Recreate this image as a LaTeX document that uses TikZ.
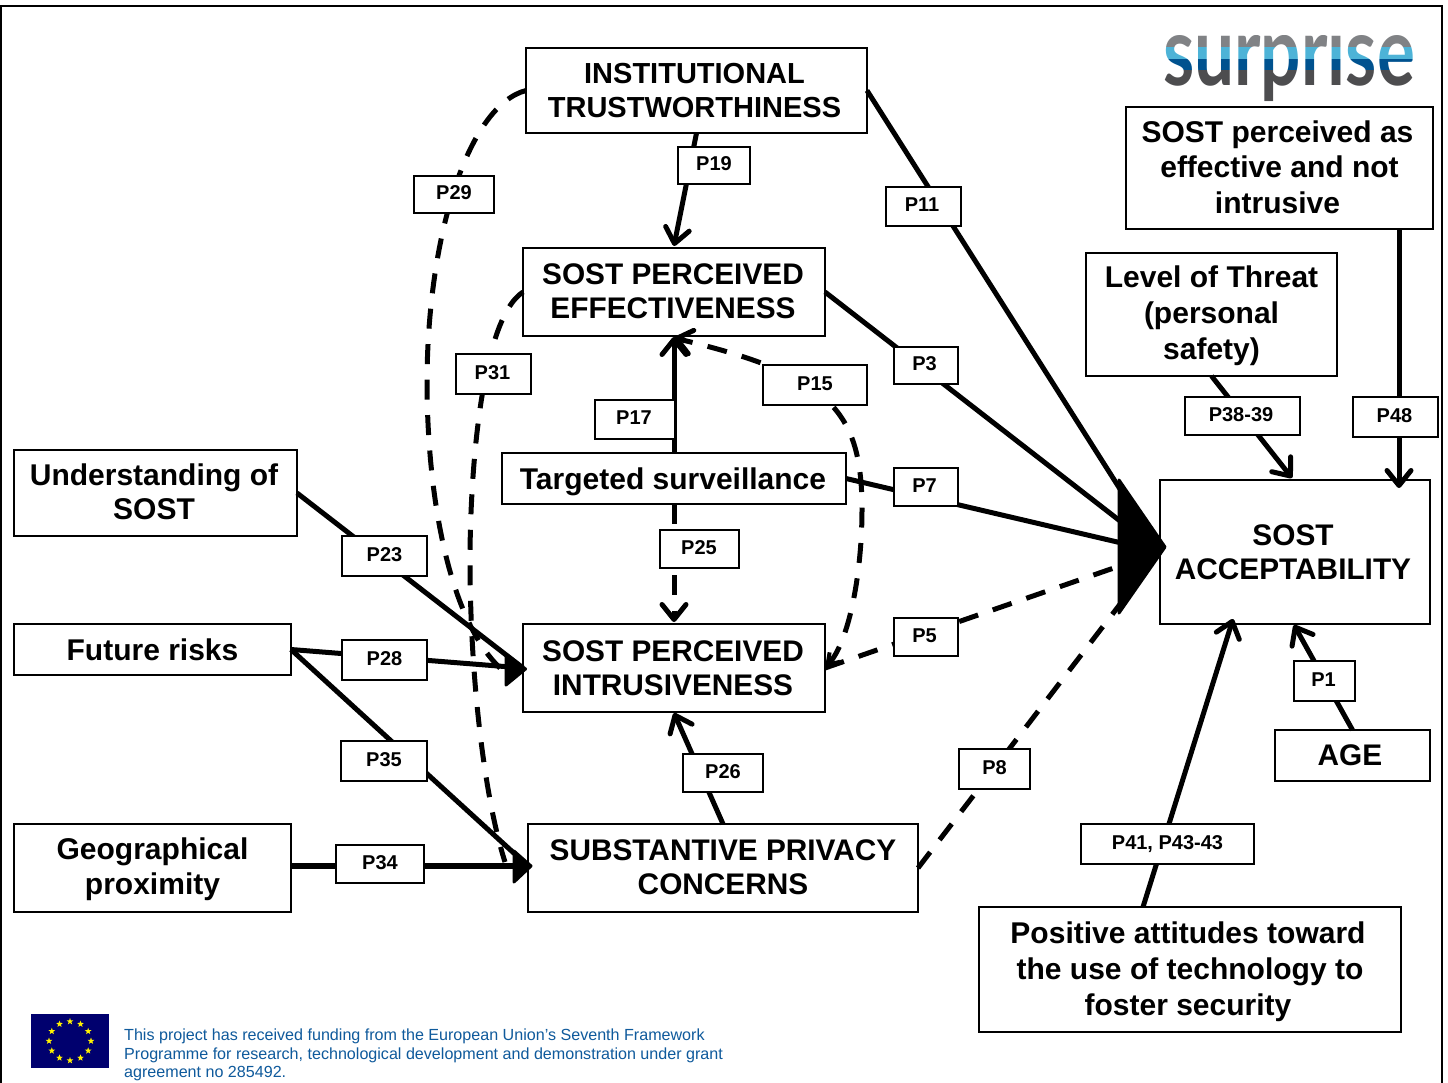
\documentclass[tikz,border=0pt]{standalone}
\usepackage{fontspec}
\setmainfont{Liberation Sans}
\newfontfamily\logofont{Lato}
\usetikzlibrary{arrows.meta,shapes.geometric,calc}
\definecolor{eublue}{HTML}{00006E}
\definecolor{footblue}{HTML}{0F5A9C}
\definecolor{lgrayA}{HTML}{808285}
\definecolor{lblueB}{HTML}{4DB3D7}
\definecolor{ldarkC}{HTML}{00528F}
\definecolor{lgrayD}{HTML}{4D4D4F}
\newcommand\nudgeL[1]{\hspace*{#1pt}}
\newcommand\lowerD{\rule[-2pt]{0pt}{1pt}}
\tikzset{
  x=1pt,y=-1pt,
  mainbox/.style={draw=black,line width=2.5pt,inner sep=0pt,outer sep=0pt,align=center,font=\fontsize{29.8}{34}\selectfont\bfseries},
  lowerbox/.style={mainbox,font=\fontsize{30}{36}\selectfont\bfseries},
  plabel/.style={draw=black,fill=white,line width=2.5pt,inner sep=0pt,outer sep=0pt,text depth=3pt,font=\fontsize{20}{22}\selectfont\bfseries},
  solidlink/.style={draw=black,line width=5pt},
  dashlink/.style={draw=black,line width=5pt,dash pattern=on 20pt off 15.5pt},
  openhead/.style={-{Straight Barb[round,length=15pt,width=24pt,line width=5pt]}},
  bighead/.style={fill=black,draw=black,line width=3pt,line join=round},
}
\begin{document}
\begin{tikzpicture}
\fill[white] (0,0) rectangle (1448,1083);
\useasboundingbox (0,0) rectangle (1448,1083);
\draw[line width=2.5pt] (1,1090) -- (1,6) -- (1442,6) -- (1442,1090);

% main boxes
\node[mainbox,minimum width=341pt,minimum height=85pt,font=\fontsize{29}{34}\selectfont\bfseries] (inst) at (696.5,90.5) {INSTITUTIONAL\nudgeL{4}\\TRUSTWORTHINESS\nudgeL{4}};
\node[mainbox,minimum width=302pt,minimum height=88pt] (eff) at (674,292) {SOST PERCEIVED\nudgeL{2}\\EFFECTIVENESS\nudgeL{2}\lowerD};
\node[lowerbox,minimum width=344pt,minimum height=51pt] (target) at (674,478.5) {\rule{0pt}{28pt}Targeted surveillance\nudgeL{2}};
\node[mainbox,minimum width=302pt,minimum height=88pt] (intr) at (674,668) {SOST PERCEIVED\nudgeL{2}\\INTRUSIVENESS\nudgeL{2}};
\node[mainbox,minimum width=390pt,minimum height=88pt] (subst) at (723,868) {SUBSTANTIVE PRIVACY\\CONCERNS\lowerD};
\node[lowerbox,minimum width=283pt,minimum height=86pt,font=\fontsize{30}{34}\selectfont\bfseries] (under) at (155.5,493) {Understanding of\nudgeL{3}\\SOST\nudgeL{3}\lowerD};
\node[lowerbox,minimum width=277pt,minimum height=51pt] (future) at (152.5,649.5) {Future risks};
\node[lowerbox,minimum width=277pt,minimum height=88pt,font=\fontsize{30}{35}\selectfont\bfseries] (geo) at (152.5,868) {\rule{0pt}{24pt}Geographical\\proximity};
\node[mainbox,minimum width=270pt,minimum height=144pt] (acc) at (1295,552) {SOST\nudgeL{4}\\ACCEPTABILITY\nudgeL{4}};
\node[mainbox,minimum width=155pt,minimum height=51pt] (age) at (1352.5,755.5) {AGE\nudgeL{5}};
\node[lowerbox,minimum width=422pt,minimum height=125pt] (pos) at (1190,969.5) {\rule{0pt}{26pt}Positive attitudes toward\nudgeL{4}\\the use of technology to\nudgeL{4}\\foster security\nudgeL{4}};
\node[lowerbox,minimum width=251pt,minimum height=123pt] (threat) at (1211.5,314.5) {\rule{0pt}{24pt}Level of Threat\\(personal\\safety)};
\node[lowerbox,minimum width=307pt,minimum height=122pt,font=\fontsize{30}{35.5}\selectfont\bfseries] (perc) at (1279.5,168) {SOST perceived as\nudgeL{4}\\effective and not\nudgeL{4}\\intrusive\nudgeL{4}\lowerD};

% free ends on box edges
\coordinate (percout) at (1399,229);
\coordinate (percin) at (1399,488);
\coordinate (threatin) at (1292,478);
\coordinate (posout) at (1143,907);
\coordinate (posin) at (1233,619);
\coordinate (agein) at (1294,625);
\coordinate (effin) at (674,246);
\coordinate (eff15) at (674,338);
\coordinate (effin17) at (674,337);
\coordinate (intr25) at (674,622);
\coordinate (intr26) at (674,713);
\coordinate (subin) at (528,866);
\coordinate (geoout) at (291,866);

% solid connectors
\draw[solidlink] (inst.east) -- (acc.west);
\draw[solidlink] (eff.east) -- (acc.west);
\draw[solidlink] (target.east) -- (acc.west);
\draw[solidlink,openhead] (inst.south) -- (effin);
\draw[solidlink,openhead] (target.north) -- (effin17);
\draw[solidlink,openhead] (subst.north) -- (intr26);
\draw[solidlink] (under.east) -- (intr.west);
\draw[solidlink] (future.east) -- (intr.west);
\draw[solidlink] (future.east) -- (subin);
\draw[solidlink,line width=6pt] (geoout) -- (subin);
\draw[solidlink,openhead] (threat.south) -- (threatin);
\draw[solidlink,openhead] (percout) -- (percin);
\draw[solidlink,openhead] (age.north) -- (agein);
\draw[solidlink,openhead] (posout) -- (posin);

% dashed connectors
\draw[dashlink] (intr.east) -- (acc.west);
\draw[dashlink] (subst.east) -- (acc.west);
\draw[dashlink,openhead] (target.south) -- (intr25);
\draw[dashlink] (inst.west) .. controls (470,105) and (428,230) .. (427,380) .. controls (427,500) and (450,620) .. (500,668);
\draw[dashlink] (eff.west) .. controls (480,320) and (470,480) .. (470,560) .. controls (470,680) and (485,800) .. (505,862);
\draw[dashlink,{Straight Barb[length=11pt,width=14pt,line width=4pt]}-{Straight Barb[round,length=15pt,width=24pt,line width=5pt]}] (intr.east) .. controls (850,640) and (862,570) .. (862,510) .. controls (862,410) and (830,375) .. (eff15);

% large merged arrowheads
\filldraw[bighead] (1119,480) -- (1165,547) -- (1119,613) -- cycle;
\filldraw[bighead] (506,654) -- (525.5,669) -- (506,685) -- cycle;
\filldraw[bighead] (514,851) -- (531,866) -- (514,882) -- cycle;

% connector labels
\node[plabel,minimum width=80pt,minimum height=37pt] (p29) at (454,194.5) {P29};
\node[plabel,minimum width=72pt,minimum height=37pt] (p19) at (714,165.5) {P19};
\node[plabel,minimum width=75pt,minimum height=39pt] (p11) at (923.5,206.5) {P11\nudgeL{3}};
\node[plabel,minimum width=75pt,minimum height=40pt] (p31) at (493.5,374) {P31\nudgeL{2}};
\node[plabel,minimum width=64pt,minimum height=37pt] (p3) at (926,365.5) {P3\nudgeL{3}};
\node[plabel,minimum width=104pt,minimum height=40pt] (p15) at (815,385) {P15};
\node[plabel,minimum width=80pt,minimum height=39pt] (p17) at (635,419.5) {P17\nudgeL{2}};
\node[plabel,minimum width=64pt,minimum height=38pt] (p7) at (926,487) {P7\nudgeL{3}};
\node[plabel,minimum width=115pt,minimum height=38pt] (p38) at (1242.5,416) {P38-39\nudgeL{3}};
\node[plabel,minimum width=85pt,minimum height=40pt] (p48) at (1395.5,417) {P48\nudgeL{2}};
\node[plabel,minimum width=85pt,minimum height=40pt] (p23) at (384.5,556) {P23};
\node[plabel,minimum width=79pt,minimum height=38pt] (p25) at (699.5,549) {P25\nudgeL{1}};
\node[plabel,minimum width=85pt,minimum height=40pt] (p28) at (384.5,660) {P28};
\node[plabel,minimum width=64pt,minimum height=38pt] (p5) at (926,637) {P5\nudgeL{3}};
\node[plabel,minimum width=86pt,minimum height=40pt] (p35) at (384,761) {P35};
\node[plabel,minimum width=80pt,minimum height=38pt] (p26) at (723,773) {P26};
\node[plabel,minimum width=61pt,minimum height=40pt] (p1) at (1324.5,681) {P1\nudgeL{2}};
\node[plabel,minimum width=71pt,minimum height=40pt] (p8) at (994.5,769) {P8};
\node[plabel,minimum width=88pt,minimum height=38pt] (p34) at (380,864) {P34};
\node[plabel,minimum width=173pt,minimum height=40pt] (p41) at (1167.5,844) {P41, P43-43};

% logo: one text, coloured in bands
\node[inner sep=0pt,anchor=base,font=\logofont\bfseries\fontsize{96}{96}\selectfont,text=black,xscale=0.74] (logo) at (1289,86) {surprise};
\begin{scope}[blend mode=screen]
\fill[lgrayA] (1150,12) rectangle (1425,47);
\fill[lblueB] (1150,47) rectangle (1425,59);
\fill[ldarkC] (1150,59) rectangle (1425,70.5);
\fill[lgrayD] (1150,70.5) rectangle (1425,106);
\end{scope}
\fill[white] (1150,10) rectangle (1425,35.5);

% EU flag
\fill[eublue] (31,1014) rectangle (109,1068);
\foreach \a in {0,30,...,330}{
  \node[star,star points=5,star point ratio=2.4,fill=yellow,inner sep=0pt,minimum size=7pt] (eustar\a) at ($(70,1041)+(\a:21pt and 19.5pt)$) {};
}
\node[anchor=north west,inner sep=0pt,align=left,text=footblue,font=\fontsize{16.1}{18.5}\selectfont] (fund) at (124,1029) {This project has received funding from the European Union’s Seventh Framework\\Programme for research, technological development and demonstration under grant\\agreement no 285492.};
\end{tikzpicture}
\end{document}
